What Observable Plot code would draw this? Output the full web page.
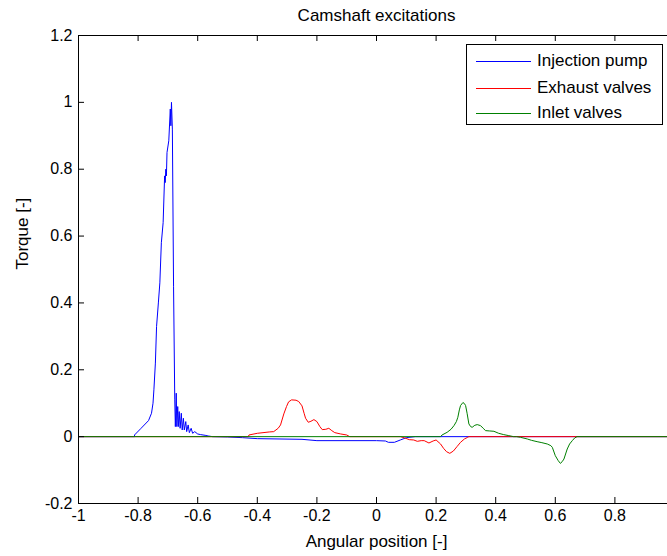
<!DOCTYPE html>
<html>
<head>
<meta charset="utf-8">
<script src="https://cdn.jsdelivr.net/npm/d3@7"></script>
<script src="https://cdn.jsdelivr.net/npm/@observablehq/plot@0.6"></script>
<style>
  html, body { margin: 0; padding: 0; background: white; overflow: hidden; }
  #wrap { position: relative; width: 667px; height: 556px; overflow: hidden; font-family: "Liberation Sans", Arial, sans-serif; }
  #legend { position: absolute; left: 466px; top: 44px; width: 195px; height: 79px; border: 1px solid #000; background: white; }
  .row { position: absolute; left: 0; height: 20px; display: flex; align-items: center; font-size: 17px; color: #000; }
  .sw { display: inline-block; width: 55px; height: 1px; margin-left: 9px; margin-right: 6px; }
</style>
</head>
<body>
<div id="wrap"></div>
<script>
const title = "Camshaft excitations";
const xLabel = "Angular position [-]";
const yLabel = "Torque [-]";
const seriesNames = ["Injection pump", "Exhaust valves", "Inlet valves"];
const seriesColors = ["#0000ff", "#ff0000", "#008000"];
const xTicks = [-1, -0.8, -0.6, -0.4, -0.2, 0, 0.2, 0.4, 0.6, 0.8];
const yTicks = [-0.2, 0, 0.2, 0.4, 0.6, 0.8, 1, 1.2];

// Injection pump
const injX = [-1, -0.812, -0.812, -0.79, -0.765, -0.755, -0.75, -0.747, -0.742, -0.738, -0.732, -0.727, -0.722, -0.716, -0.711, -0.709, -0.707, -0.705, -0.703, -0.697, -0.692, -0.690, -0.688, -0.685, -0.681, -0.677,
  -0.675, -0.672, -0.670, -0.667, -0.665, -0.662, -0.659, -0.655, -0.652, -0.648, -0.645, -0.640, -0.637, -0.632, -0.628, -0.622, -0.617, -0.610, -0.600, -0.590, -0.575, -0.565, -0.55,
  -0.5, -0.45, -0.4, -0.25, -0.2, 0, 0.03, 0.04, 0.06, 0.08, 0.1, 0.13, 1];
const injY = [0, 0, 0.005, 0.025, 0.048, 0.07, 0.1, 0.14, 0.22, 0.33, 0.40, 0.46, 0.58, 0.64, 0.78, 0.76, 0.80, 0.78, 0.85, 0.885, 0.98, 0.93, 1.0, 0.92, 0.45, 0.11,
  0.03, 0.13, 0.03, 0.09, 0.03, 0.075, 0.025, 0.07, 0.02, 0.055, 0.02, 0.045, 0.015, 0.035, 0.012, 0.025, 0.01, 0.015, 0.008, 0.006, 0.004, 0.002, 0,
  -0.001, -0.003, -0.006, -0.008, -0.012, -0.012, -0.013, -0.017, -0.017, -0.01, -0.003, 0, 0];

// Exhaust valves
const exhX = [-1, -0.43, -0.428, -0.40, -0.36, -0.345, -0.33, -0.322, -0.311, -0.302, -0.295, -0.285, -0.27, -0.261, -0.25, -0.243, -0.238, -0.229, -0.22, -0.21, -0.2, -0.19, -0.182, -0.17, -0.16, -0.15, -0.14, -0.12, -0.1, -0.09,
  0.08, 0.095, 0.11, 0.125, 0.137, 0.15, 0.16, 0.176, 0.19, 0.2, 0.215, 0.225, 0.235, 0.246, 0.258, 0.27, 0.282, 0.295, 0.306, 0.31, 1];
const exhY = [0, 0, 0.005, 0.01, 0.014, 0.015, 0.025, 0.035, 0.068, 0.09, 0.104, 0.11, 0.109, 0.105, 0.092, 0.07, 0.055, 0.043, 0.046, 0.051, 0.045, 0.03, 0.021, 0.022, 0.025, 0.018, 0.012, 0.008, 0.005, 0,
  0, -0.004, -0.009, -0.01, -0.014, -0.012, -0.012, -0.019, -0.013, -0.01, -0.022, -0.035, -0.045, -0.05, -0.043, -0.03, -0.017, -0.007, -0.002, 0, 0];

// Inlet valves
const inlX = [-1, 0.215, 0.22, 0.237, 0.25, 0.26, 0.268, 0.273, 0.278, 0.282, 0.29, 0.295, 0.299, 0.304, 0.31, 0.316, 0.321, 0.33, 0.338, 0.349, 0.358, 0.366, 0.38, 0.394, 0.41, 0.427, 0.444, 0.46, 0.47,
  0.483, 0.506, 0.52, 0.539, 0.555, 0.573, 0.585, 0.59, 0.6, 0.61, 0.617, 0.623, 0.629, 0.64, 0.648, 0.657, 0.665, 0.673, 1];
const inlY = [0, 0, 0.005, 0.013, 0.022, 0.033, 0.045, 0.058, 0.08, 0.093, 0.102, 0.099, 0.093, 0.07, 0.038, 0.03, 0.028, 0.034, 0.036, 0.033, 0.025, 0.018, 0.017, 0.016, 0.01, 0.006, 0.003, 0, 0,
  -0.002, -0.007, -0.011, -0.015, -0.018, -0.022, -0.027, -0.032, -0.057, -0.072, -0.08, -0.075, -0.067, -0.037, -0.022, -0.012, -0.004, 0, 0];

const zip = (xs, ys) => xs.map((x, i) => ({x, y: ys[i]}));
const series = [zip(injX, injY), zip(exhX, exhY), zip(inlX, inlY)];
const fmt = d => String(d);

const W = 667, H = 556, mL = 78, mR = -7, mT = 35, mB = 53;
const plotW = W - mL - mR, plotH = H - mT - mB, tick = 6;

const chart = Plot.plot({
  width: W,
  height: H,
  marginLeft: mL,
  marginRight: mR,
  marginTop: mT,
  marginBottom: mB,
  style: {fontFamily: "'Liberation Sans', Arial, sans-serif", fontSize: "16px", color: "#000", background: "white", overflow: "hidden"},
  x: {domain: [-1, 1]},
  y: {domain: [-0.2, 1.2]},
  marks: [
    Plot.line(series[0], {x: "x", y: "y", stroke: seriesColors[0], strokeWidth: 1}),
    Plot.line(series[1], {x: "x", y: "y", stroke: seriesColors[1], strokeWidth: 1}),
    Plot.line(series[2], {x: "x", y: "y", stroke: seriesColors[2], strokeWidth: 1}),
    Plot.frame({stroke: "#000", strokeWidth: 1}),
    // inward ticks on all four sides
    Plot.tickX(xTicks, {x: d => d, stroke: "#000", insetTop: plotH - tick}),
    Plot.tickX(xTicks, {x: d => d, stroke: "#000", insetBottom: plotH - tick}),
    Plot.tickY(yTicks, {y: d => d, stroke: "#000", insetRight: plotW - tick}),
    Plot.tickY(yTicks, {y: d => d, stroke: "#000", insetLeft: plotW - tick}),
    Plot.axisX({ticks: xTicks, tickSize: 0, tickPadding: 6, tickFormat: fmt, label: null}),
    Plot.axisY({ticks: yTicks, tickSize: 0, tickPadding: 6, tickFormat: fmt, label: null}),
    Plot.text([title], {text: d => d, frameAnchor: "top", dy: -20, fontSize: 17, lineAnchor: "middle", fill: "#000"}),
    Plot.text([xLabel], {text: d => d, frameAnchor: "bottom", dy: 38, fontSize: 17, lineAnchor: "middle", fill: "#000"}),
    Plot.text([yLabel], {text: d => d, frameAnchor: "left", dx: -56, rotate: -90, fontSize: 17, lineAnchor: "middle", fill: "#000"})
  ]
});

const wrap = document.getElementById("wrap");
wrap.appendChild(chart);

const legend = document.createElement("div");
legend.id = "legend";
const rowTops = [6, 33, 58];
seriesNames.forEach((name, i) => {
  const row = document.createElement("div");
  row.className = "row";
  row.style.top = rowTops[i] + "px";
  const sw = document.createElement("span");
  sw.className = "sw";
  sw.style.background = seriesColors[i];
  const t = document.createElement("span");
  t.textContent = name;
  row.appendChild(sw);
  row.appendChild(t);
  legend.appendChild(row);
});
wrap.appendChild(legend);
</script>
</body>
</html>
